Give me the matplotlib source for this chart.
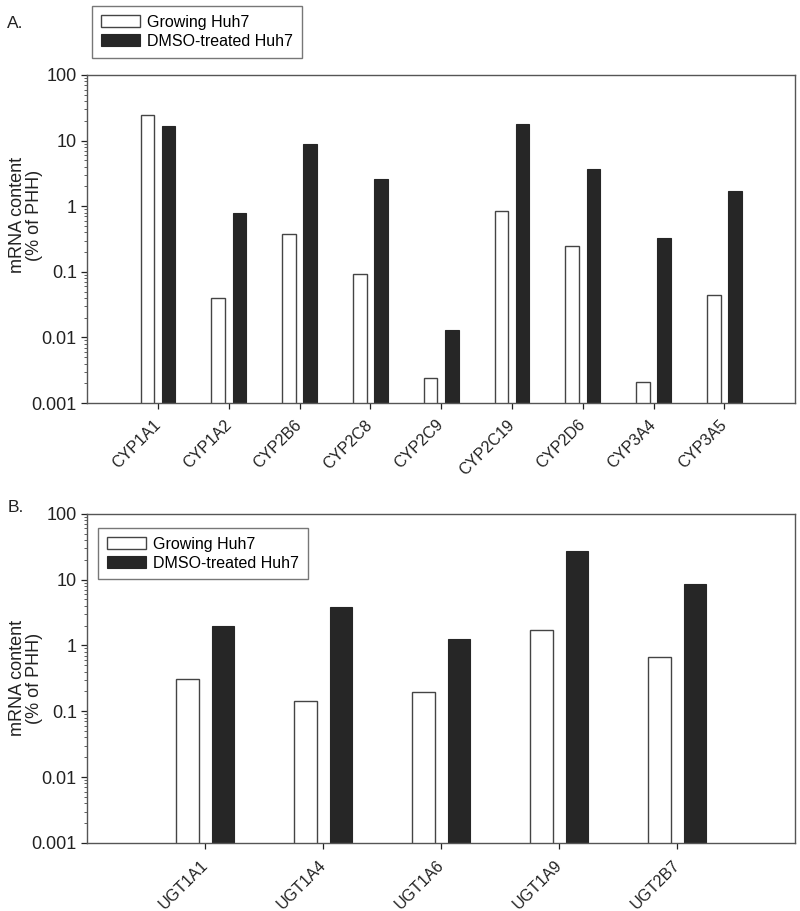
import numpy as np
import matplotlib.pyplot as plt
from matplotlib.ticker import LogLocator, FixedFormatter, FixedLocator

plt.rcParams['font.family'] = ['Liberation Sans', 'DejaVu Sans']

# Panel A - CYP mRNA (% of PHH)
cyp_genes = ["CYP1A1", "CYP1A2", "CYP2B6", "CYP2C8", "CYP2C9",
             "CYP2C19", "CYP2D6", "CYP3A4", "CYP3A5"]
cyp_growing = [24.6, 0.040, 0.38, 0.092, 0.0024, 0.84, 0.25, 0.0021, 0.044]
cyp_dmso = [16.5, 0.80, 9.0, 2.6, 0.013, 17.9, 3.65, 0.33, 1.72]

# Panel B - UGT mRNA (% of PHH)
ugt_genes = ["UGT1A1", "UGT1A4", "UGT1A6", "UGT1A9", "UGT2B7"]
ugt_growing = [0.31, 0.142, 0.195, 1.70, 0.67]
ugt_dmso = [2.0, 3.84, 1.26, 27.2, 8.5]

series_names = ["Growing Huh7", "DMSO-treated Huh7"]
ytick_vals = [0.001, 0.01, 0.1, 1, 10, 100]
ytick_labels = ["0.001", "0.01", "0.1", "1", "10", "100"]

fig = plt.figure(figsize=(8, 9.11), dpi=100)
axA = fig.add_axes([0.109, 0.5576, 0.885, 0.3601])
axB = fig.add_axes([0.109, 0.0747, 0.885, 0.3614])

spine_col = "#555555"
dark = "#262626"
txt = "#222222"


def draw_panel(ax, genes, grow, dmso, label_y):
    x = np.arange(len(genes))
    w = 0.19
    b1 = ax.bar(x - 0.15, grow, w, color="white", edgecolor="#444444", linewidth=1.0)
    b2 = ax.bar(x + 0.15, dmso, w, color=dark, edgecolor=dark, linewidth=0.8)
    ax.set_yscale("log")
    ax.set_ylim(0.001, 100)
    ax.set_xlim(-1, len(genes))
    ax.yaxis.set_major_locator(FixedLocator(ytick_vals))
    ax.yaxis.set_major_formatter(FixedFormatter(ytick_labels))
    ax.yaxis.set_minor_locator(LogLocator(base=10, subs=np.arange(2, 10)))
    ax.yaxis.set_minor_formatter(FixedFormatter([]))
    ax.set_xticks(x)
    ax.set_xticklabels(genes, rotation=45, ha="right", va="center", rotation_mode="anchor")
    ax.tick_params(axis="y", which="major", labelsize=13, colors=txt, length=4, width=0.9)
    ax.tick_params(axis="x", which="major", labelsize=11.5, colors=txt, length=4, width=0.9,
                   pad=10)
    ax.tick_params(axis="y", which="minor", length=2.5, width=0.6, color="#444444")
    for s in ax.spines.values():
        s.set_color(spine_col)
        s.set_linewidth(1.0)
    ax.set_ylabel("mRNA content\n(% of PHH)", fontsize=13, color=txt, linespacing=1.0)
    ax.yaxis.set_label_coords(-0.062, label_y)
    return b1, b2


hA = draw_panel(axA, cyp_genes, cyp_growing, cyp_dmso, 0.573)
hB = draw_panel(axB, ugt_genes, ugt_growing, ugt_dmso, 0.5)

leg_kw = dict(fontsize=11.5, frameon=True, fancybox=False, edgecolor="#555555",
              handlelength=2.45, handleheight=0.8, labelspacing=0.25, borderpad=0.55,
              handletextpad=0.45, borderaxespad=0)
legA = fig.legend(hA, series_names, loc="upper left", bbox_to_anchor=(0.115, 0.9934), **leg_kw)
legA.get_frame().set_linewidth(1.0)

legB = axB.legend(hB, series_names, loc="upper left", bbox_to_anchor=(0.0155, 0.957), **leg_kw)
legB.get_frame().set_linewidth(1.0)

fig.text(0.009, 0.9737, "A.", fontsize=12.5, color=txt, va="center")
fig.text(0.009, 0.4424, "B.", fontsize=12.5, color=txt, va="center")

plt.savefig("out.png", dpi=100)
